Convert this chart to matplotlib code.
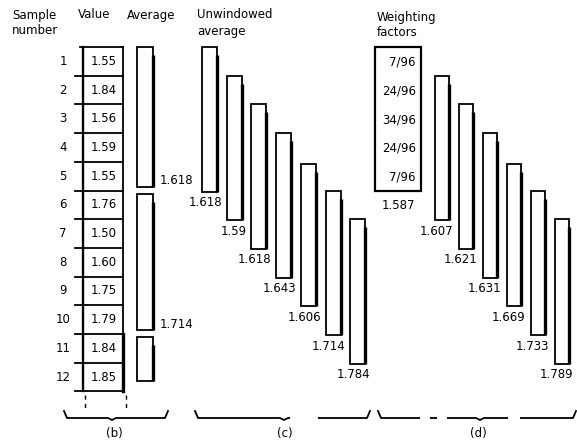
import matplotlib
matplotlib.use("Agg")
import matplotlib.pyplot as plt
from matplotlib.patches import Rectangle

# ---------------- data ----------------
sample_numbers = [1, 2, 3, 4, 5, 6, 7, 8, 9, 10, 11, 12]
values = [1.55, 1.84, 1.56, 1.59, 1.55, 1.76, 1.50, 1.60, 1.75, 1.79, 1.84, 1.85]
block_starts = [0, 5, 10]
block_lengths = [5, 5, 2]
block_labels = ["1.618", "1.714", ""]
unwindowed_labels = ["1.618", "1.59", "1.618", "1.643", "1.606", "1.714", "1.784"]
unwindowed_starts = [0, 1, 2, 3, 4, 5, 6]
weight_labels = ["7/96", "24/96", "34/96", "24/96", "7/96"]
weighted_labels = ["1.587", "1.607", "1.621", "1.631", "1.669", "1.733", "1.789"]
weighted_starts = [0, 1, 2, 3, 4, 5, 6]
window = 5

# ---------------- layout ----------------
W, H = 577, 442
fig = plt.figure(figsize=(W / 100, H / 100), dpi=100)
ax = fig.add_axes([0, 0, 1, 1])
ax.set_xlim(0, W)
ax.set_ylim(H, 0)
ax.axis("off")

FS = 8.5
top = 47.0
row_h = 28.7
lw = 1.3

def row_y(i):
    return top + i * row_h

def bar(x0, width, y0, y1):
    ax.add_patch(Rectangle((x0, y0), width, y1 - y0, fill=False, ec="black", lw=lw))
    ax.plot([x0 + width, x0 + width], [y0 + 8, y1], color="black", lw=2.4,
            solid_capstyle="butt")

# headers
ax.text(12, 15, "Sample", fontsize=FS, va="center", ha="left")
ax.text(12, 31, "number", fontsize=FS, va="center", ha="left")
ax.text(78, 15, "Value", fontsize=FS, va="center", ha="left")
ax.text(127, 15, "Average", fontsize=FS, va="center", ha="left")
ax.text(197, 15, "Unwindowed", fontsize=FS, va="center", ha="left")
ax.text(197, 31, "average", fontsize=FS, va="center", ha="left")
ax.text(377, 17, "Weighting", fontsize=FS, va="center", ha="left")
ax.text(377, 33, "factors", fontsize=FS, va="center", ha="left")

# (b) table of sample values
tx0, tx1 = 83, 123
n = len(values)
for i, (num, v) in enumerate(zip(sample_numbers, values)):
    yc = row_y(i) + row_h / 2
    ax.text(63, yc, str(num), fontsize=FS, ha="center", va="center")
    ax.text((tx0 + tx1) / 2 + 1, yc, f"{v:.2f}", fontsize=FS, ha="center", va="center")
for i in range(n + 1):
    ax.plot([75 if 0 < i else 80, tx1], [row_y(i), row_y(i)], color="black", lw=lw)
ax.plot([tx0, tx0], [row_y(0), row_y(n)], color="black", lw=lw + 0.4)
ax.plot([tx1, tx1], [row_y(0), row_y(n)], color="black", lw=lw)
ax.plot([tx1, tx1], [row_y(10), row_y(n)], color="black", lw=2.4)
# little tick lines under the table
ax.plot([85, 85], [row_y(n) + 4, 410], color="black", lw=1.0, ls=(0, (3, 3)))
ax.plot([126, 126], [row_y(n) + 4, 410], color="black", lw=1.0, ls=(0, (3, 3)))

# (b) block averages
for s, L, lab in zip(block_starts, block_lengths, block_labels):
    y0 = row_y(s) + (0 if s == 0 else 3)
    y1 = row_y(s + L) - 4 - (6 if s + L == n else 0)
    bar(137, 16, y0, y1)
    if lab:
        ax.text(160, y1 - 6, lab, fontsize=FS, ha="left", va="center")

# (c) unwindowed running averages
cx0, cstep, cw = 202, 24.7, 15
for k, (s, lab) in enumerate(zip(unwindowed_starts, unwindowed_labels)):
    x0 = cx0 + k * cstep
    y0 = row_y(s) + (2 if s == 4 else 0)
    y1 = row_y(s + window) + 1
    bar(x0, cw, y0, y1)
    ax.text(x0 + cw + 5, y1 + 11, lab, fontsize=FS, ha="right", va="center")

# (d) weighting factors box
bx0, bx1 = 375, 421
ax.add_patch(Rectangle((bx0, row_y(0)), bx1 - bx0, row_y(window) - row_y(0),
                       fill=False, ec="black", lw=lw + 0.3))
for i, wl in enumerate(weight_labels):
    ax.text(416, row_y(i) + row_h / 2 + 1, wl, fontsize=FS, ha="right", va="center")
ax.text(415, row_y(window) + 15, weighted_labels[0], fontsize=FS, ha="right", va="center")

# (d) weighted running averages
dx0, dstep, dw = 435, 24.0, 14
for k, (s, lab) in enumerate(zip(weighted_starts[1:], weighted_labels[1:])):
    x0 = dx0 + k * dstep
    y0 = row_y(s) + (2 if s == 4 else 0)
    y1 = row_y(s + window) + 1
    bar(x0, dw, y0, y1)
    ax.text(x0 + dw + 4, y1 + 11, lab, fontsize=FS, ha="right", va="center")

# braces and panel labels (with the print's broken segments)
def brace(xa, xb, xm, y, label, lx, gaps=()):
    ax.plot([xa, xa + 3, xm - 4, xm, xm + 4, xb - 3, xb],
            [y - 7, y, y, y + 2, y, y, y - 7], color="black", lw=1.3, zorder=2)
    for g0, g1 in gaps:
        ax.add_patch(Rectangle((g0, y - 3), g1 - g0, 7, fc="white", ec="none", zorder=3))
    ax.text(lx, y + 15, label, fontsize=FS, ha="center", va="center")

brace(64, 168, 112, 418, "(b)", 114)
brace(195, 370, 284, 418, "(c)", 285, gaps=[(290, 318)])
brace(378, 576, 480, 418, "(d)", 478, gaps=[(420, 430), (437, 447), (508, 520)])

fig.savefig("out.png", dpi=100)
